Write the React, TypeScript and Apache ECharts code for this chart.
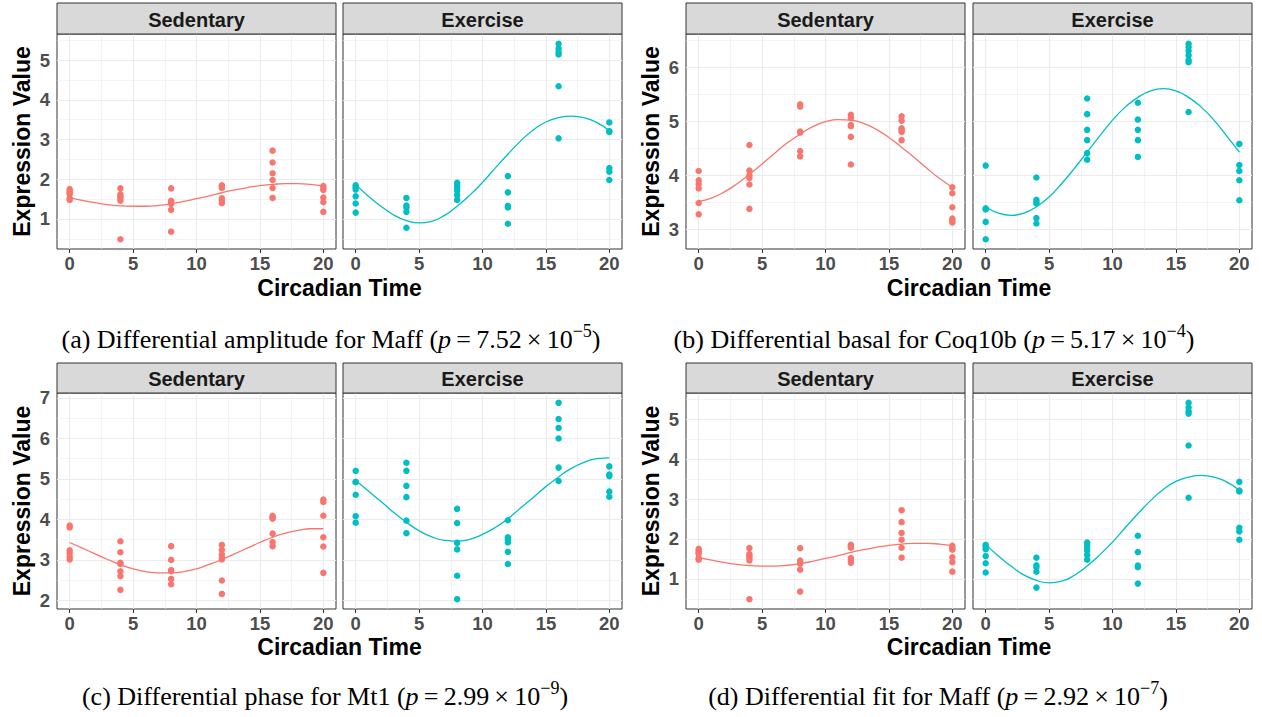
import { useEffect, useRef } from "react";
import * as echarts from "echarts";

// ---------- data ----------
const times = [0, 4, 8, 12, 16, 20];
const fitTimes = [0, 1, 2, 3, 4, 5, 6, 7, 8, 9, 10, 11, 12, 13, 14, 15, 16, 17, 18, 19, 20];
const xTicks = [0, 5, 10, 15, 20];
const xMinor = [2.5, 7.5, 12.5, 17.5];

// Maff (panels a and d)
const maffSed = [
  [1.75, 1.71, 1.66, 1.63, 1.52, 1.48],
  [1.77, 1.62, 1.57, 1.52, 1.46, 0.49],
  [1.77, 1.46, 1.42, 1.38, 1.23, 0.68],
  [1.85, 1.82, 1.78, 1.52, 1.46, 1.4],
  [2.72, 2.42, 2.15, 1.98, 1.78, 1.53],
  [1.83, 1.77, 1.73, 1.54, 1.42, 1.18],
];
const maffEx = [
  [1.85, 1.8, 1.74, 1.57, 1.39, 1.16],
  [1.53, 1.34, 1.29, 1.18, 0.78],
  [1.91, 1.84, 1.78, 1.71, 1.6, 1.48],
  [2.08, 1.67, 1.33, 1.29, 0.88],
  [5.41, 5.29, 5.2, 5.14, 4.34, 3.03],
  [3.43, 3.21, 3.19, 2.28, 2.19, 1.98],
];
const maffSedFit = [1.54, 1.47, 1.41, 1.36, 1.33, 1.32, 1.32, 1.34, 1.38, 1.44, 1.51, 1.58, 1.66, 1.73, 1.79, 1.84, 1.87, 1.89, 1.89, 1.87, 1.83];
const maffExFit = [1.87, 1.57, 1.32, 1.1, 0.96, 0.9, 0.94, 1.09, 1.32, 1.6, 1.92, 2.28, 2.63, 2.96, 3.24, 3.44, 3.55, 3.59, 3.55, 3.43, 3.22];

// Coq10b (panel b)
const coqSed = [
  [4.08, 3.91, 3.84, 3.76, 3.49, 3.28],
  [4.56, 4.09, 4.0, 3.95, 3.83, 3.38],
  [5.31, 5.27, 4.81, 4.79, 4.45, 4.35],
  [5.12, 5.06, 4.93, 4.91, 4.71, 4.2],
  [5.09, 5.01, 4.87, 4.83, 4.8, 4.65],
  [3.78, 3.67, 3.41, 3.2, 3.16, 3.13],
];
const coqEx = [
  [4.18, 3.39, 3.37, 3.14, 2.82],
  [3.96, 3.55, 3.51, 3.48, 3.21, 3.11],
  [5.42, 5.13, 4.84, 4.65, 4.41, 4.29],
  [5.34, 5.03, 4.84, 4.65, 4.34],
  [6.43, 6.37, 6.3, 6.22, 6.13, 6.09, 5.17],
  [4.58, 4.19, 4.08, 3.91, 3.54],
];
const coqSedFit = [3.52, 3.58, 3.69, 3.84, 4.02, 4.21, 4.41, 4.6, 4.76, 4.9, 4.99, 5.03, 5.02, 4.96, 4.85, 4.7, 4.52, 4.33, 4.13, 3.94, 3.78];
const coqExFit = [3.42, 3.3, 3.26, 3.3, 3.42, 3.6, 3.85, 4.13, 4.43, 4.73, 5.02, 5.26, 5.44, 5.56, 5.6, 5.56, 5.44, 5.26, 5.02, 4.73, 4.43];

// Mt1 (panel c)
const mtSed = [
  [3.85, 3.8, 3.24, 3.17, 3.08, 3.01],
  [3.46, 3.19, 2.93, 2.9, 2.72, 2.6, 2.26],
  [3.34, 3.0, 2.75, 2.72, 2.53, 2.4],
  [3.37, 3.25, 3.14, 3.06, 3.01, 2.49, 2.16],
  [4.09, 4.05, 4.02, 3.65, 3.44, 3.34],
  [4.49, 4.43, 4.09, 3.56, 3.33, 2.68],
];
const mtEx = [
  [5.2, 4.93, 4.92, 4.61, 4.08, 3.92],
  [5.4, 5.2, 4.83, 4.55, 3.97, 3.66],
  [4.26, 3.91, 3.42, 3.26, 2.61, 2.03],
  [3.98, 3.56, 3.5, 3.43, 3.2, 2.9],
  [6.88, 6.48, 6.26, 6.0, 5.28, 4.95],
  [5.31, 5.11, 5.07, 4.69, 4.56],
];
const mtSedFit = [3.43, 3.29, 3.15, 3.01, 2.88, 2.78, 2.71, 2.68, 2.68, 2.71, 2.78, 2.89, 3.01, 3.15, 3.29, 3.43, 3.56, 3.66, 3.73, 3.77, 3.77];
const mtExFit = [4.96, 4.7, 4.44, 4.17, 3.93, 3.72, 3.57, 3.48, 3.46, 3.51, 3.63, 3.8, 4.02, 4.28, 4.54, 4.81, 5.05, 5.26, 5.41, 5.5, 5.52];

const facetNames = ["Sedentary", "Exercise"];
const xTitle = "Circadian Time";
const yTitle = "Expression Value";

const captionTexts = [
  { label: "(a) Differential amplitude for Maff", mant: "7.52", exp: "−5" },
  { label: "(b) Differential basal for Coq10b", mant: "5.17", exp: "−4" },
  { label: "(c) Differential phase for Mt1", mant: "2.99", exp: "−9" },
  { label: "(d) Differential fit for Maff", mant: "2.92", exp: "−7" },
];

const panels = [
  { sed: maffSed, ex: maffEx, sedFit: maffSedFit, exFit: maffExFit, yTicks: [1, 2, 3, 4, 5], yMinor: [0.5, 1.5, 2.5, 3.5, 4.5, 5.5] },
  { sed: coqSed, ex: coqEx, sedFit: coqSedFit, exFit: coqExFit, yTicks: [3, 4, 5, 6], yMinor: [2.5, 3.5, 4.5, 5.5, 6.5] },
  { sed: mtSed, ex: mtEx, sedFit: mtSedFit, exFit: mtExFit, yTicks: [2, 3, 4, 5, 6, 7], yMinor: [1.5, 2.5, 3.5, 4.5, 5.5, 6.5, 7.5] },
  { sed: maffSed, ex: maffEx, sedFit: maffSedFit, exFit: maffExFit, yTicks: [1, 2, 3, 4, 5], yMinor: [0.5, 1.5, 2.5, 3.5, 4.5, 5.5] },
];

// ---------- layout ----------
const layouts = [
  { sedLeft: 57, exLeft: 343, width: 279, stripTop: 3, top: 34, height: 215, titleX: 22, xTitleY: 288, capX: 331, capY: 337 },
  { sedLeft: 686, exLeft: 973, width: 279, stripTop: 3, top: 34, height: 215, titleX: 651, xTitleY: 288, capX: 934, capY: 337 },
  { sedLeft: 57, exLeft: 343, width: 279, stripTop: 363, top: 393, height: 216, titleX: 22, xTitleY: 647, capX: 325, capY: 694 },
  { sedLeft: 686, exLeft: 973, width: 279, stripTop: 363, top: 393, height: 216, titleX: 651, xTitleY: 647, capX: 938, capY: 694 },
];

const SED = "#F8766D";
const EX = "#00BFC4";
const SANS = "'Liberation Sans', Arial, Helvetica, sans-serif";
const SERIF = "'Liberation Serif', 'Times New Roman', serif";

function buildOption() {
  const grid: any[] = [];
  const xAxis: any[] = [];
  const yAxis: any[] = [];
  const series: any[] = [];
  const graphic: any[] = [];

  panels.forEach((p, pi) => {
    const L = layouts[pi];
    const all = [...p.sed.flat(), ...p.ex.flat(), ...p.sedFit, ...p.exFit];
    const lo = Math.min(...all);
    const hi = Math.max(...all);
    const pad = (hi - lo) * 0.05;
    const yMin = lo - pad;
    const yMax = hi + pad;
    const facets = [
      { name: facetNames[0], left: L.sedLeft, data: p.sed, fit: p.sedFit, color: SED, showY: true },
      { name: facetNames[1], left: L.exLeft, data: p.ex, fit: p.exFit, color: EX, showY: false },
    ];
    facets.forEach((f) => {
      const gi = grid.length;
      grid.push({
        left: f.left, top: L.top, width: L.width, height: L.height,
        show: true, borderColor: "#333333", borderWidth: 1, backgroundColor: "#ffffff",
        containLabel: false, outerBoundsMode: "none",
      });
      xAxis.push({
        type: "value", gridIndex: gi, min: -1, max: 21,
        axisLine: { show: false },
        splitLine: { show: false },
        axisTick: { show: true, customValues: xTicks, length: 4, lineStyle: { color: "#333333", width: 1 } },
        axisLabel: { show: true, customValues: xTicks, color: "#4d4d4d", fontWeight: "bold", fontSize: 18.5, fontFamily: SANS, margin: 5 },
      });
      yAxis.push({
        type: "value", gridIndex: gi, min: yMin, max: yMax,
        axisLine: { show: false },
        splitLine: { show: false },
        axisTick: { show: f.showY, customValues: p.yTicks, length: 4, lineStyle: { color: "#333333", width: 1 } },
        axisLabel: { show: f.showY, customValues: p.yTicks, color: "#4d4d4d", fontWeight: "bold", fontSize: 18.5, fontFamily: SANS, margin: 7 },
      });
      const pts: number[][] = [];
      times.forEach((t, ti) => f.data[ti].forEach((v) => pts.push([t, v])));
      const gridLines: any[] = [
        ...xTicks.map((v) => ({ xAxis: v, lineStyle: { width: 1.1 } })),
        ...xMinor.map((v) => ({ xAxis: v, lineStyle: { width: 0.55 } })),
        ...p.yTicks.filter((v) => v > yMin && v < yMax).map((v) => ({ yAxis: v, lineStyle: { width: 1.1 } })),
        ...p.yMinor.filter((v) => v > yMin && v < yMax).map((v) => ({ yAxis: v, lineStyle: { width: 0.55 } })),
      ];
      series.push({
        type: "scatter", xAxisIndex: gi, yAxisIndex: gi, data: pts,
        symbol: "circle", symbolSize: 6.5, itemStyle: { color: f.color, opacity: 1 },
        z: 3, silent: true,
        markLine: {
          z: 1, silent: true, symbol: "none", animation: false,
          label: { show: false }, emphasis: { disabled: true },
          lineStyle: { color: "#ebebeb", type: "solid" },
          data: gridLines,
        },
      });
      series.push({
        type: "line", xAxisIndex: gi, yAxisIndex: gi,
        data: fitTimes.map((t, i) => [t, f.fit[i]]),
        smooth: true, showSymbol: false, symbol: "none", silent: true, z: 2,
        lineStyle: { color: f.color, width: 1.3 },
      });
      graphic.push({
        type: "rect", z: 10,
        shape: { x: f.left, y: L.stripTop, width: L.width, height: L.top - L.stripTop },
        style: { fill: "#d9d9d9", stroke: "#333333", lineWidth: 1 },
      });
      graphic.push({
        type: "text", z: 11,
        x: f.left + L.width / 2, y: (L.stripTop + L.top) / 2 + 1,
        style: { text: f.name, fill: "#1a1a1a", font: `bold 20px ${SANS}`, align: "center", verticalAlign: "middle" },
      });
    });
    // axis titles
    graphic.push({
      type: "text", z: 11,
      x: L.titleX, y: L.top + L.height / 2, rotation: Math.PI / 2,
      style: { text: yTitle, fill: "#000000", font: `bold 23px ${SANS}`, align: "center", verticalAlign: "middle" },
    });
    graphic.push({
      type: "text", z: 11,
      x: (L.sedLeft + L.exLeft + L.width) / 2, y: L.xTitleY,
      style: { text: xTitle, fill: "#000000", font: `bold 23px ${SANS}`, align: "center", verticalAlign: "middle" },
    });
    // caption
    const c = captionTexts[pi];
    graphic.push({
      type: "text", z: 11,
      x: L.capX, y: L.capY,
      style: {
        text: `{n|${c.label} (}{i|p}{n|\u2009=\u2009${c.mant}\u2009×\u200910}{s|${c.exp}}{n|)}`,
        align: "center", verticalAlign: "middle",
        rich: {
          n: { fontFamily: SERIF, fontSize: 26, fill: "#000000", lineHeight: 30, verticalAlign: "bottom" },
          i: { fontFamily: SERIF, fontSize: 26, fontStyle: "italic", fill: "#000000", lineHeight: 30, verticalAlign: "bottom" },
          s: { fontFamily: SERIF, fontSize: 18, fill: "#000000", lineHeight: 18, verticalAlign: "top" },
        },
      },
    });
  });

  return {
    animation: false,
    backgroundColor: "#ffffff",
    grid, xAxis, yAxis, series, graphic,
  };
}

export default function App() {
  const ref = useRef<HTMLDivElement>(null);
  useEffect(() => {
    if (!ref.current) return;
    const chart = echarts.init(ref.current, null, { renderer: "svg" });
    chart.setOption(buildOption() as any);
    return () => chart.dispose();
  }, []);
  return <div ref={ref} style={{ position: "absolute", left: 0, top: 0, width: 1262, height: 717 }} />;
}
